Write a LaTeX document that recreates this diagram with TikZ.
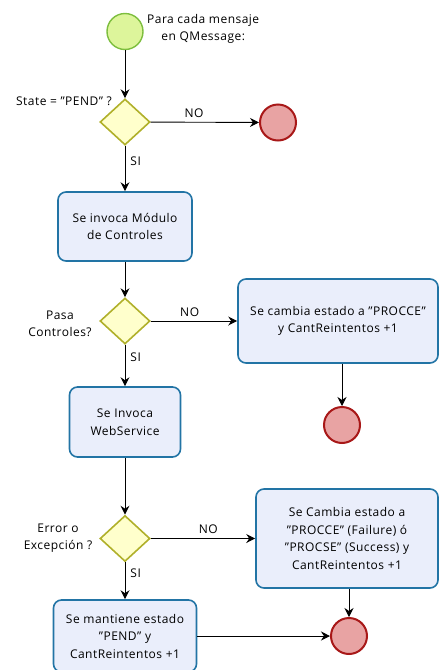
\documentclass[tikz,border=0pt]{standalone}
\usepackage{fontspec}
\setmainfont{Open Sans}[LetterSpace=4]
\usetikzlibrary{shapes.geometric,arrows.meta}
\definecolor{boxfill}{HTML}{EAEEFB}
\definecolor{boxline}{HTML}{2274A5}
\definecolor{dfill}{HTML}{FFFFCC}
\definecolor{dline}{HTML}{B0B02A}
\definecolor{efill}{HTML}{E8A3A3}
\definecolor{eline}{HTML}{A81818}
\definecolor{sfill}{HTML}{DDF59B}
\definecolor{sline}{HTML}{7DBE3E}
\tikzset{
  txt/.style={font=\fontsize{12}{17.5}\selectfont, align=center, inner sep=0pt},
  taskbox/.style={txt, draw=boxline, fill=boxfill, line width=1.6pt, rounded corners=8pt},
  gate/.style={shape=diamond, draw=dline, fill=dfill, line width=1.6pt, minimum width=50pt, minimum height=46pt, inner sep=0pt},
  endev/.style={circle, draw=eline, fill=efill, line width=2pt, minimum size=36pt, inner sep=0pt},
  startev/.style={circle, draw=sline, fill=sfill, line width=1.4pt, minimum size=36pt, inner sep=0pt},
  flow/.style={draw=black, line width=0.9pt, -{Stealth[length=9pt,width=9pt,inset=3pt]}},
  lbl/.style={txt}
}
\begin{document}
\begin{tikzpicture}[x=1pt,y=-1pt]
\useasboundingbox (0,0) rectangle (440,670);
\node[startev] (start) at (125,31.5) {};
\node[lbl, anchor=west] (starttxt) at (147,29) {Para cada mensaje\\en QMessage:};
\node[gate] (g1) at (125,122) {};
\node[lbl, anchor=east] (g1txt) at (112,101) {State = "PEND" ?};
\node[endev] (e1) at (278,122.5) {};
\node[taskbox, minimum width=134pt, minimum height=69pt] (t1) at (125,226.5) {Se invoca Módulo\\de Controles};
\node[gate] (g2) at (125,321) {};
\node[lbl] (g2txt) at (60,324) {Pasa\\Controles?};
\node[taskbox, minimum width=200pt, minimum height=84pt] (t2) at (338,321) {Se cambia estado a "PROCCE"\\y CantReintentos +1};
\node[endev] (e2) at (342,425) {};
\node[taskbox, minimum width=111pt, minimum height=70pt] (t3) at (125,422) {Se Invoca\\WebService};
\node[gate] (g3) at (125,538.5) {};
\node[lbl] (g3txt) at (58,538) {Error o\\Excepción ?};
\node[taskbox, minimum width=182pt, minimum height=99pt] (t4) at (347,538.5) {Se Cambia estado a\\"PROCCE" (Failure) ó\\"PROCSE" (Success) y\\CantReintentos +1};
\node[endev] (e3) at (349,636) {};
\node[taskbox, minimum width=143pt, minimum height=72pt] (t5) at (125,636) {Se mantiene estado\\"PEND" y\\CantReintentos +1};
\draw[flow] (start) -- (g1);
\draw[flow] (g1) -- node[lbl, pos=0.4, above=4pt] (no1) {NO} (e1);
\draw[flow] (g1) -- node[lbl, pos=0.35, right=5pt] (si1) {SI} (t1);
\draw[flow] (t1) -- (g2);
\draw[flow] (g2) -- node[lbl, pos=0.45, above=4pt] (no2) {NO} (t2);
\draw[flow] (g2) -- node[lbl, pos=0.3, right=5pt] (si2) {SI} (t3);
\draw[flow] (t2.south -| e2) -- (e2);
\draw[flow] (t3) -- (g3);
\draw[flow] (g3) -- node[lbl, pos=0.55, above=4pt] (no3) {NO} (t4);
\draw[flow] (g3) -- node[lbl, pos=0.3, right=5pt] (si3) {SI} (t5);
\draw[flow] (t4.south -| e3) -- (e3);
\draw[flow] (t5) -- (e3);
\end{tikzpicture}
\end{document}
